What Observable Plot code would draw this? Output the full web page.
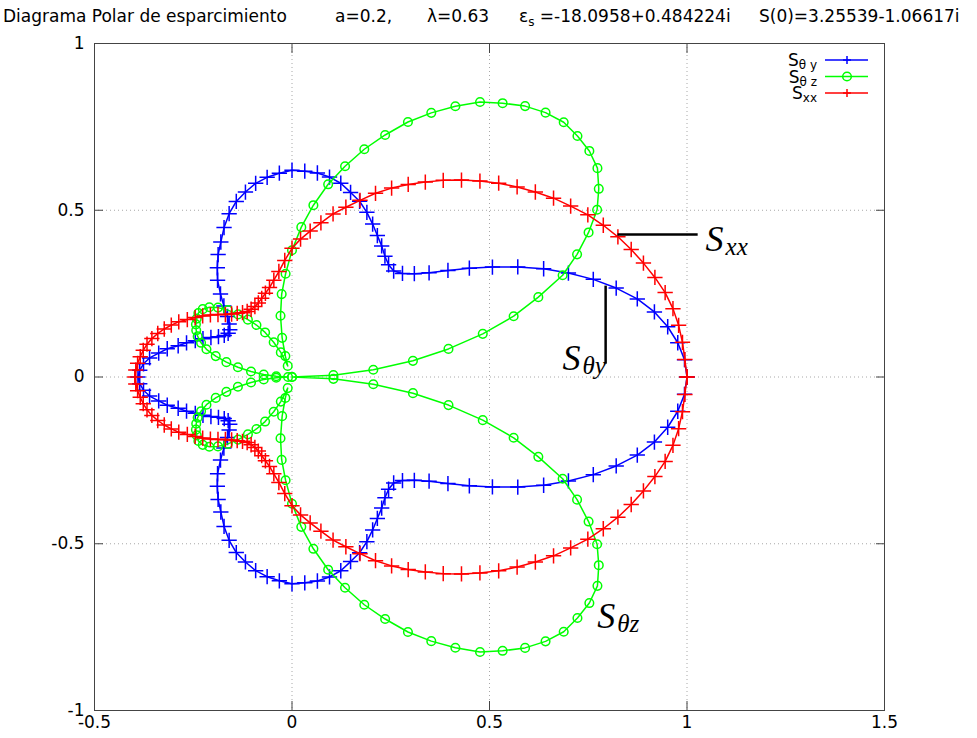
<!DOCTYPE html>
<html><head><meta charset="utf-8">
<script src="https://cdn.jsdelivr.net/npm/d3@7"></script>
<script src="https://cdn.jsdelivr.net/npm/@observablehq/plot@0.6"></script>
<style>
body{margin:0;background:#fff;}
#wrap{position:relative;width:977px;height:738px;}
#title{position:absolute;left:0;top:6px;width:977px;height:22px;font-family:"DejaVu Sans",sans-serif;font-size:17px;line-height:20px;white-space:pre;color:#000;z-index:2}
#title .seg{position:absolute;top:0}
#title .sub{font-size:12px;position:relative;top:4px}
</style></head>
<body><div id="wrap"><div id="title"></div></div>
<script>
// Scattering angle (degrees) for every sample of the polar diagram
const theta = [0,3,6,9,12,15,18,21,24,27,30,33,36,39,42,45,48,51,54,57,60,63,66,69,72,75,78,81,84,87,90,93,96,99,102,105,108,111,114,117,120,123,126,129,132,135,138,141,144,147,150,153,156,159,162,165,168,171,174,177,180,183,186,189,192,195,198,201,204,207,210,213,216,219,222,225,228,231,234,237,240,243,246,249,252,255,258,261,264,267,270,273,276,279,282,285,288,291,294,297,300,303,306,309,312,315,318,321,324,327,330,333,336,339,342,345,348,351,354,357,360];

// |S_θy| (normalised)
const rThetaY = [1.000,0.995,0.982,0.963,0.938,0.905,0.863,0.817,0.766,0.715,0.660,0.605,0.555,0.508,0.467,0.438,0.418,0.409,0.416,0.432,0.454,0.476,0.502,0.529,0.554,0.573,0.594,0.607,0.615,0.618,0.620,0.612,0.602,0.588,0.567,0.545,0.515,0.480,0.443,0.412,0.378,0.346,0.308,0.274,0.244,0.225,0.212,0.208,0.212,0.222,0.237,0.253,0.268,0.286,0.303,0.327,0.345,0.365,0.378,0.386,0.390,
0.386,0.378,0.365,0.345,0.327,0.303,0.286,0.268,0.253,0.237,0.222,0.212,0.208,0.212,0.225,0.244,0.274,0.308,0.346,0.378,0.412,0.443,0.480,0.515,0.545,0.567,0.588,0.602,0.612,0.620,0.618,0.615,0.607,0.594,0.573,0.554,0.529,0.502,0.476,0.454,0.432,0.416,0.409,0.418,0.438,0.467,0.508,0.555,0.605,0.660,0.715,0.766,0.817,0.863,0.905,0.938,0.963,0.982,0.995,1.000];

// |S_θz| (normalised)
const rThetaZ = [0.000,0.105,0.207,0.310,0.405,0.500,0.590,0.668,0.750,0.810,0.867,0.921,0.960,0.995,1.013,1.022,1.028,1.020,1.004,0.979,0.952,0.911,0.867,0.819,0.763,0.707,0.646,0.585,0.518,0.450,0.380,0.310,0.250,0.186,0.120,0.065,0.035,0.079,0.114,0.150,0.180,0.205,0.232,0.258,0.280,0.296,0.304,0.305,0.298,0.290,0.280,0.268,0.252,0.232,0.203,0.172,0.140,0.105,0.072,0.040,0.010,
0.040,0.072,0.105,0.140,0.172,0.203,0.232,0.252,0.268,0.280,0.290,0.298,0.305,0.304,0.296,0.280,0.258,0.232,0.205,0.180,0.150,0.114,0.079,0.035,0.065,0.120,0.186,0.250,0.310,0.380,0.450,0.518,0.585,0.646,0.707,0.763,0.819,0.867,0.911,0.952,0.979,1.004,1.020,1.028,1.022,1.013,0.995,0.960,0.921,0.867,0.810,0.750,0.668,0.590,0.500,0.405,0.310,0.207,0.105,0.000];

// |S_xx| (normalised)
const rXX = [1.000,0.996,0.994,0.991,0.986,0.978,0.966,0.953,0.940,0.926,0.910,0.893,0.872,0.852,0.829,0.806,0.782,0.756,0.730,0.703,0.675,0.648,0.620,0.590,0.557,0.527,0.500,0.468,0.440,0.414,0.386,0.350,0.318,0.294,0.274,0.260,0.248,0.238,0.231,0.228,0.227,0.230,0.236,0.243,0.252,0.265,0.278,0.291,0.303,0.316,0.331,0.343,0.354,0.364,0.373,0.380,0.385,0.389,0.393,0.396,0.398,
0.396,0.393,0.389,0.385,0.380,0.373,0.364,0.354,0.343,0.331,0.316,0.303,0.291,0.278,0.265,0.252,0.243,0.236,0.230,0.227,0.228,0.231,0.238,0.248,0.260,0.274,0.294,0.318,0.350,0.386,0.414,0.440,0.468,0.500,0.527,0.557,0.590,0.620,0.648,0.675,0.703,0.730,0.756,0.782,0.806,0.829,0.852,0.872,0.893,0.910,0.926,0.940,0.953,0.966,0.978,0.986,0.991,0.994,0.996,1.000];

const xTicks = [-0.5, 0, 0.5, 1, 1.5];
const xTickLabels = ["-0.5", "0", "0.5", "1", "1.5"];
const yTicks = [-1, -0.5, 0, 0.5, 1];
const yTickLabels = ["-1", "-0.5", "0", "0.5", "1"];

// In-plot annotations (data coordinates)
const labelMain = ["S", "S", "S"];
const labelSub = ["xx", "θy", "θz"];
const labelX = [1.047, 0.685, 0.773];
const labelY = [0.379, 0.0195, -0.754];
const leaderX1 = [0.824, 0.794];
const leaderX2 = [1.027, 0.794];
const leaderY1 = [0.427, 0.274];
const leaderY2 = [0.427, 0.040];

const seriesNames = ["θ y", "θ z", "xx"];
const seriesColors = ["#0000ff", "#00ff00", "#ff0000"];

// Title segments: [text, subscript, text after, left position in px]
const titleSegments = [
  ["Diagrama Polar de esparcimiento", "", "", 3],
  ["a=0.2,", "", "", 335],
  ["λ=0.63", "", "", 427],
  ["ε", "s", " =-18.0958+0.484224i", 519],
  ["S(0)=3.25539-1.06617i", "", "", 759]
];

// ---- build
const polar = r => theta.map((t, i) => ({x: r[i] * Math.cos(t * Math.PI / 180), y: r[i] * Math.sin(t * Math.PI / 180)}));
const blue = polar(rThetaY), green = polar(rThetaZ), red = polar(rXX);
const annotations = labelX.map((x, i) => ({x, y: labelY[i], main: labelMain[i], sub: labelSub[i]}));
const leaders = leaderX1.map((x1, i) => ({x1, x2: leaderX2[i], y1: leaderY1[i], y2: leaderY2[i]}));

const gridStyle = {stroke: "#a8a8a8", strokeOpacity: 1, strokeDasharray: "1,3", strokeWidth: 1};
const serif = "'Liberation Serif', 'DejaVu Serif', serif";
const plusR = 5;

const plot = Plot.plot({
  width: 977, height: 738,
  marginTop: 43, marginRight: 93, marginBottom: 28, marginLeft: 94,
  x: {domain: [-0.5, 1.5], label: null},
  y: {domain: [-1, 1], label: null},
  style: {fontFamily: "'DejaVu Sans', sans-serif", fontSize: "17px", background: "#fff", color: "#000", overflow: "visible"},
  marks: [
    Plot.gridX(xTicks, gridStyle),
    Plot.gridY(yTicks, gridStyle),
    Plot.axisX(xTicks, {anchor: "bottom", tickSize: -9, tickPadding: 14, tickFormat: d => xTickLabels[xTicks.indexOf(d)], label: null, fontSize: 17, stroke: "#444"}),
    Plot.axisX(xTicks, {anchor: "top", tickSize: -9, tickFormat: () => "", label: null, stroke: "#444"}),
    Plot.axisY(yTicks, {anchor: "left", tickSize: -9, tickPadding: 19, tickFormat: d => yTickLabels[yTicks.indexOf(d)], label: null, fontSize: 17, stroke: "#444"}),
    Plot.axisY(yTicks, {anchor: "right", tickSize: -9, tickFormat: () => "", label: null, stroke: "#444"}),
    Plot.line(blue, {x: "x", y: "y", stroke: seriesColors[0], strokeWidth: 1.5}),
    Plot.dot(blue, {x: "x", y: "y", symbol: "plus", r: plusR, stroke: seriesColors[0], fill: "none", strokeWidth: 1.5}),
    Plot.line(green, {x: "x", y: "y", stroke: seriesColors[1], strokeWidth: 1.5}),
    Plot.dot(green, {x: "x", y: "y", symbol: "circle", r: 4.3, stroke: seriesColors[1], fill: "none", strokeWidth: 1.5}),
    Plot.line(red, {x: "x", y: "y", stroke: seriesColors[2], strokeWidth: 1.5}),
    Plot.dot(red, {x: "x", y: "y", symbol: "plus", r: plusR, stroke: seriesColors[2], fill: "none", strokeWidth: 1.5}),
    Plot.frame({stroke: "#444"}),
    Plot.link(leaders, {x1: "x1", y1: "y1", x2: "x2", y2: "y2", stroke: "#000", strokeWidth: 2.5}),
    Plot.text(annotations, {x: "x", y: "y", text: "main", textAnchor: "start", lineAnchor: "bottom", fontFamily: serif, fontStyle: "italic", fontSize: 36, fill: "#000"}),
    Plot.text(annotations, {x: "x", y: "y", text: "sub", textAnchor: "start", lineAnchor: "bottom", dx: 20, dy: 4, fontFamily: serif, fontStyle: "italic", fontSize: 25, fill: "#000"})
  ]
});

// Legend (top-right inside the frame)
const svg = d3.select(plot);
const lg = svg.append("g").attr("font-family", "'DejaVu Sans', sans-serif");
seriesNames.forEach((name, i) => {
  const yl = 60 + i * 16.5;
  const t = lg.append("text").attr("x", 817).attr("y", yl + 6).attr("text-anchor", "end").attr("font-size", 17).attr("fill", "#000");
  t.append("tspan").text("S");
  t.append("tspan").attr("font-size", 12).attr("dy", 3).text(name);
  lg.append("line").attr("x1", 825).attr("x2", 868).attr("y1", yl).attr("y2", yl).attr("stroke", seriesColors[i]).attr("stroke-width", 1.5);
  if (i === 1) {
    lg.append("circle").attr("cx", 847).attr("cy", yl).attr("r", 4.3).attr("fill", "none").attr("stroke", seriesColors[i]).attr("stroke-width", 1.5);
  } else {
    lg.append("path").attr("d", `M${847 - 4},${yl}h8M847,${yl - 4}v8`).attr("stroke", seriesColors[i]).attr("stroke-width", 1.5);
  }
});

document.getElementById("wrap").appendChild(plot);

// Title
const title = document.getElementById("title");
titleSegments.forEach(([a, s, b, left]) => {
  const seg = document.createElement("span");
  seg.className = "seg";
  seg.style.left = left + "px";
  seg.appendChild(document.createTextNode(a));
  if (s) { const sub = document.createElement("span"); sub.className = "sub"; sub.textContent = s; seg.appendChild(sub); }
  if (b) seg.appendChild(document.createTextNode(b));
  title.appendChild(seg);
});
</script>
</body></html>
